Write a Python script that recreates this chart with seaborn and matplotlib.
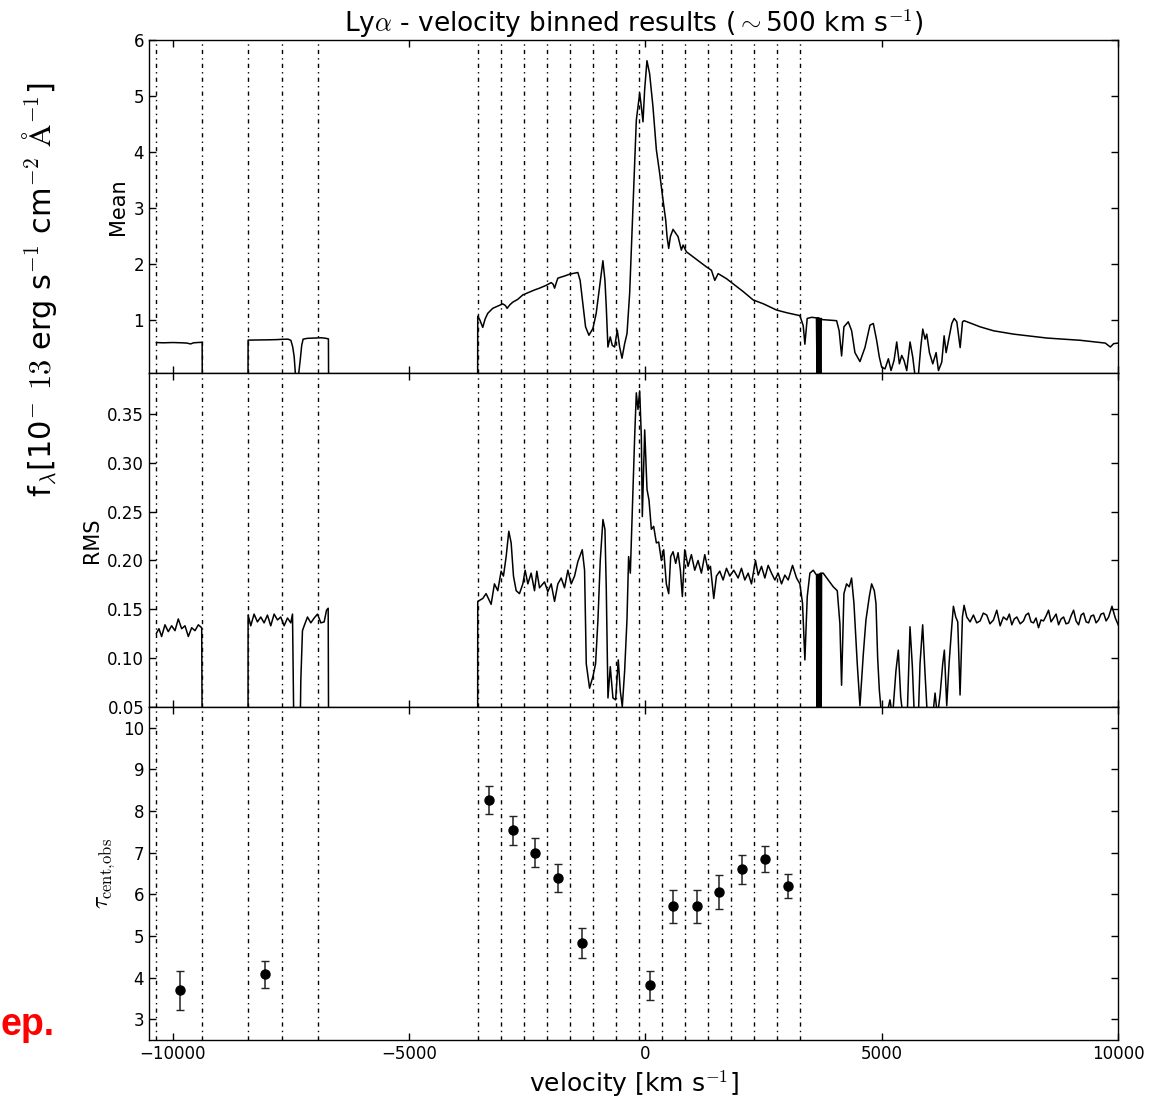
import numpy as np
import pandas as pd
import matplotlib
matplotlib.use("Agg")
import matplotlib.pyplot as plt
import seaborn as sns

# --- bin edges (vertical dash-dot lines), km/s ---
bin_edges = [-10350, -9375, -8405, -7680, -6935, -3550, -3045, -2570, -2080,
             -1590, -1100, -615, -125, 345, 840, 1325, 1815, 2295, 2785, 3265]

# --- tau_cent,obs per bin ---
tau_v = [-9850, -8040, -3300, -2810, -2325, -1845, -1350, 100, 595, 1083,
         1568, 2045, 2540, 3020]
tau_val = [3.69, 4.08, 8.26, 7.53, 7.00, 6.39, 4.83, 3.81, 5.71, 5.71,
           6.06, 6.60, 6.84, 6.20]
tau_err = [0.47, 0.32, 0.34, 0.34, 0.35, 0.33, 0.35, 0.35, 0.40, 0.39,
           0.41, 0.35, 0.31, 0.29]

# --- mean spectrum (velocity, flux) ---
mean_v = [-10347, -10200, -10000, -9800, -9700, -9620, -9560, -9450, -9376, -9374,
          -8406, -8404, -8200, -8000, -7800, -7677, -7560, -7500, -7460, -7430,
          -7400, -7340, -7300, -7270, -7240, -7150, -7000, -6850, -6760, -6705,
          -6702, -3548,
          -3546, -3500, -3440, -3390, -3335, -3230, -3100, -3017, -2960, -2925,
          -2870, -2806, -2700, -2593, -2450, -2340, -2240, -2100, -1992, -1950,
          -1920, -1880, -1850, -1700, -1604, -1428, -1380, -1322, -1265, -1194,
          -1110, -1040, -968, -898, -855, -827, -792, -743, -700, -650,
          -594, -544, -494, -438, -388, -332, -262, -191, -120, -85,
          -50, -15, 34, 90, 161, 233, 303, 374, 430, 459,
          494, 529, 586, 692, 762, 798, 868, 1010, 1150, 1292,
          1398, 1469, 1540, 1716, 1900, 2069, 2281, 2500, 2775, 3000,
          3269, 3340, 3375, 3424, 3517, 3620,
          3632, 3645, 3658, 3671, 3684, 3697, 3710, 3722,
          3729, 3900, 4046, 4100, 4152, 4201, 4293, 4364, 4434, 4540,
          4646, 4752, 4823, 4893, 4950, 5000, 5070, 5141, 5198, 5261,
          5318, 5374, 5424, 5473, 5530, 5600, 5657, 5706, 5777, 5826,
          5869, 5918, 5953, 6010, 6081, 6151, 6201, 6271, 6321, 6363,
          6413, 6483, 6533, 6589, 6660, 6710, 6744, 7083, 7365, 7788,
          8496, 9201, 9731, 9837, 9908, 10000]
mean_f = [0.60, 0.595, 0.60, 0.595, 0.59, 0.575, 0.595, 0.60, 0.605, 0.0,
          0.0, 0.643, 0.645, 0.648, 0.652, 0.658, 0.66, 0.64, 0.52, 0.35,
          0.0, 0.0, 0.30, 0.55, 0.66, 0.675, 0.68, 0.685, 0.675, 0.665,
          0.0, 0.0,
          1.07, 1.00, 0.87, 1.02, 1.12, 1.21, 1.26, 1.29, 1.26, 1.21,
          1.27, 1.32, 1.37, 1.45, 1.50, 1.54, 1.57, 1.62, 1.67, 1.64,
          1.57, 1.68, 1.75, 1.79, 1.82, 1.85, 1.71, 1.29, 0.88, 0.73,
          0.85, 1.12, 1.60, 2.06, 1.71, 1.24, 0.52, 0.70, 0.55, 0.52,
          0.82, 0.52, 0.32, 0.58, 0.76, 1.48, 3.02, 4.57, 5.05, 4.81,
          4.54, 5.11, 5.63, 5.40, 4.81, 4.04, 3.62, 3.14, 2.79, 2.49,
          2.28, 2.49, 2.62, 2.49, 2.25, 2.34, 2.22, 2.13, 2.04, 1.95,
          1.89, 1.71, 1.83, 1.74, 1.62, 1.51, 1.36, 1.29, 1.18, 1.13,
          1.08, 0.90, 0.57, 1.03, 1.05, 1.04,
          0.0, 1.04, 0.0, 1.04, 0.0, 1.03, 0.0, 1.03,
          1.01, 1.00, 0.99, 0.81, 0.36, 0.88, 0.97, 0.81, 0.42, 0.26,
          0.51, 0.91, 0.94, 0.64, 0.34, 0.16, 0.13, 0.31, 0.10, 0.28,
          0.61, 0.22, 0.37, 0.28, 0.10, 0.61, 0.34, 0.0, 0.03, 0.51,
          0.84, 0.66, 0.75, 0.42, 0.22, 0.42, 0.10, 0.25, 0.72, 0.42,
          0.64, 0.94, 1.03, 0.97, 0.51, 0.97, 0.99, 0.88, 0.81, 0.75,
          0.68, 0.64, 0.59, 0.52, 0.58, 0.59]

# --- RMS spectrum (velocity, rms) ---
rms_v = [-10347, -10290, -10234, -10163, -10093, -10022, -9951, -9881, -9810, -9739,
         -9669, -9598, -9528, -9457, -9386, -9374,
         -8406, -8404, -8348, -8278, -8207, -8136, -8066, -7995, -7925, -7854,
         -7783, -7713, -7642, -7571, -7501, -7465, -7430, -7310, -7289, -7254,
         -7218, -7148, -7077, -7006, -6936, -6865, -6795, -6745, -6710, -6700,
         -3548,
         -3546, -3440, -3369, -3263, -3193, -3122, -3051, -3002, -2945, -2889,
         -2839, -2790, -2733, -2663, -2592, -2543, -2486, -2416, -2345, -2296,
         -2239, -2133, -2063, -1992, -1921, -1851, -1780, -1710, -1639, -1568,
         -1498, -1427, -1335, -1286, -1250, -1180, -1109, -1053, -1003, -954,
         -897, -855, -827, -791, -742, -686, -629, -573, -530, -488,
         -438, -389, -354, -318, -276, -226, -191, -156, -120, -85,
         -64, -14, 35, 77, 127, 176, 233, 282, 339, 388,
         444, 494, 536, 586, 642, 692, 741, 783, 833, 904,
         974, 1045, 1115, 1186, 1257, 1327, 1377, 1447, 1504, 1574,
         1645, 1716, 1786, 1871, 1963, 2033, 2104, 2175, 2245, 2330,
         2387, 2457, 2528, 2598, 2669, 2740, 2810, 2881, 2951, 3022,
         3114, 3199, 3269, 3325, 3375, 3425, 3481, 3552, 3622,
         3636, 3650, 3664, 3678, 3692, 3706, 3718, 3728,
         3763, 3869, 3975, 4060, 4116, 4151, 4201, 4257, 4314, 4363,
         4413, 4483, 4540, 4611, 4667, 4738, 4787, 4844, 4879, 4914,
         4950, 4999, 5100, 5175, 5230, 5302, 5352, 5402, 5450, 5540,
         5599, 5649, 5691, 5776, 5811, 5867, 5917, 5966, 6079, 6129,
         6178, 6235, 6291, 6326, 6376, 6425, 6482, 6517, 6567, 6609,
         6658, 6708, 6743, 6800, 6870, 6941, 7010, 7082, 7150, 7223,
         7290, 7365, 7435, 7506, 7575, 7647, 7700, 7753, 7805, 7859,
         7930, 8000, 8050, 8106, 8160, 8212, 8265, 8318, 8370, 8424,
         8477, 8530, 8583, 8636, 8690, 8742, 8795, 8848, 8900, 8954,
         9005, 9060, 9112, 9166, 9220, 9271, 9325, 9377, 9430, 9483,
         9536, 9589, 9640, 9695, 9748, 9801, 9872, 9942, 10013]
rms_f = [0.125, 0.130, 0.122, 0.134, 0.127, 0.133, 0.128, 0.140, 0.130, 0.133,
         0.122, 0.131, 0.128, 0.134, 0.131, 0.0,
         0.0, 0.144, 0.133, 0.145, 0.137, 0.142, 0.136, 0.144, 0.133, 0.145,
         0.139, 0.142, 0.133, 0.141, 0.136, 0.145, 0.0, 0.0, 0.077, 0.128,
         0.133, 0.142, 0.136, 0.141, 0.145, 0.136, 0.137, 0.149, 0.151, 0.0,
         0.0,
         0.158, 0.161, 0.166, 0.155, 0.176, 0.169, 0.189, 0.184, 0.204, 0.230,
         0.218, 0.184, 0.169, 0.166, 0.176, 0.190, 0.176, 0.187, 0.169, 0.189,
         0.172, 0.178, 0.168, 0.176, 0.158, 0.176, 0.182, 0.172, 0.190, 0.176,
         0.184, 0.199, 0.211, 0.190, 0.094, 0.069, 0.081, 0.094, 0.139, 0.200,
         0.242, 0.232, 0.172, 0.059, 0.091, 0.059, 0.057, 0.098, 0.066, 0.050,
         0.087, 0.139, 0.204, 0.187, 0.252, 0.327, 0.372, 0.355, 0.374, 0.327,
         0.245, 0.334, 0.273, 0.262, 0.232, 0.235, 0.218, 0.219, 0.200, 0.211,
         0.176, 0.166, 0.204, 0.209, 0.197, 0.208, 0.190, 0.163, 0.211, 0.194,
         0.206, 0.190, 0.200, 0.187, 0.206, 0.190, 0.194, 0.161, 0.184, 0.189,
         0.180, 0.192, 0.184, 0.190, 0.182, 0.192, 0.180, 0.187, 0.176, 0.200,
         0.185, 0.194, 0.182, 0.195, 0.187, 0.180, 0.187, 0.176, 0.185, 0.180,
         0.195, 0.182, 0.176, 0.156, 0.098, 0.163, 0.187, 0.190, 0.185,
         0.0, 0.186, 0.0, 0.186, 0.0, 0.187, 0.0, 0.187,
         0.187, 0.180, 0.173, 0.169, 0.135, 0.072, 0.166, 0.176, 0.173, 0.182,
         0.156, 0.094, 0.051, 0.104, 0.139, 0.163, 0.176, 0.169, 0.156, 0.101,
         0.067, 0.040, 0.040, 0.057, 0.040, 0.087, 0.108, 0.060, 0.040, 0.040,
         0.132, 0.091, 0.040, 0.040, 0.094, 0.134, 0.084, 0.040, 0.040, 0.064,
         0.040, 0.062, 0.094, 0.108, 0.051, 0.094, 0.132, 0.153, 0.142, 0.137,
         0.062, 0.142, 0.154, 0.142, 0.137, 0.144, 0.136, 0.138, 0.146, 0.144,
         0.135, 0.139, 0.149, 0.133, 0.142, 0.139, 0.145, 0.134, 0.140, 0.142,
         0.135, 0.138, 0.144, 0.146, 0.137, 0.136, 0.141, 0.131, 0.139, 0.138,
         0.143, 0.149, 0.137, 0.141, 0.145, 0.134, 0.140, 0.142, 0.135, 0.136,
         0.143, 0.149, 0.138, 0.134, 0.144, 0.146, 0.137, 0.136, 0.143, 0.144,
         0.136, 0.139, 0.145, 0.146, 0.138, 0.142, 0.153, 0.141, 0.133]

sns.set_style("ticks", {"xtick.direction": "in", "ytick.direction": "in"})
plt.rcParams["font.family"] = ["DejaVu Sans"]
plt.rcParams["mathtext.fontset"] = "cm"
plt.rcParams["mathtext.default"] = "rm"
plt.rcParams["axes.edgecolor"] = "black"
plt.rcParams["axes.linewidth"] = 1.0
plt.rcParams["text.color"] = "black"
plt.rcParams["axes.labelcolor"] = "black"

fig, axes = plt.subplots(3, 1, figsize=(11.5, 11.05), dpi=100, sharex=True)
fig.subplots_adjust(left=0.1296, right=0.9722, top=0.9638, bottom=0.0588, hspace=0)
ax1, ax2, ax3 = axes

mean_df = pd.DataFrame({"v": mean_v, "f": mean_f})
rms_df = pd.DataFrame({"v": rms_v, "f": rms_f})

sns.lineplot(data=mean_df, x="v", y="f", ax=ax1, color="black", lw=1.1,
             sort=False, estimator=None)
sns.lineplot(data=rms_df, x="v", y="f", ax=ax2, color="black", lw=1.1,
             sort=False, estimator=None)
ax3.errorbar(tau_v, tau_val, yerr=tau_err, fmt="o", color="black", ecolor="#222222",
             markersize=6.5, capsize=3, elinewidth=1.1, capthick=1.0)

for ax in axes:
    for e in bin_edges:
        ax.axvline(e, color="black", lw=1.0, ls=(0, (3, 3, 1, 3)), zorder=0)
    ax.tick_params(axis="both", which="major", direction="in", top=True, right=True,
                   length=5, width=1, labelsize=12, colors="black")
    ax.set_xlim(-10500, 10000)
    ax.set_xlabel("")

ax1.set_ylim(0.05, 6)
ax1.set_yticks([1, 2, 3, 4, 5, 6])
ax1.set_ylabel("Mean", fontsize=15)
ax2.set_ylim(0.05, 0.392)
ax2.set_yticks([0.05, 0.10, 0.15, 0.20, 0.25, 0.30, 0.35])
ax2.set_yticklabels(["0.05", "0.10", "0.15", "0.20", "0.25", "0.30", "0.35"])
ax2.set_ylabel("RMS", fontsize=15)
ax3.set_ylim(2.5, 10.5)
ax3.set_yticks([3, 4, 5, 6, 7, 8, 9, 10])
ax3.set_ylabel(r"$\tau_{\rm cent,\!obs}$", fontsize=17)
ax3.set_xticks([-10000, -5000, 0, 5000, 10000])
ax3.set_xlabel(r"velocity [km s$^{-1}$]", fontsize=18)

ax1.set_title(r"Ly$\alpha$ - velocity binned results ($\sim$500 km s$^{-1}$)",
              fontsize=19, pad=4)

fig.text(40 / 1150, 1 - 290 / 1105,
         r"f$_{\lambda}$[10$^{-}$ $13$ erg s$^{-1}$ cm$^{-2}$ $\mathrm{\AA}^{-1}$]",
         rotation=90, ha="center", va="center", fontsize=22)

# stray red label fragment at the lower left
fig.text(1 / 1150, 1 - 1035 / 1105, "ep.", color="red", fontsize=27,
         fontweight="bold", family=["Liberation Sans", "DejaVu Sans"],
         ha="left", va="baseline")

fig.savefig("out.png", dpi=100)
